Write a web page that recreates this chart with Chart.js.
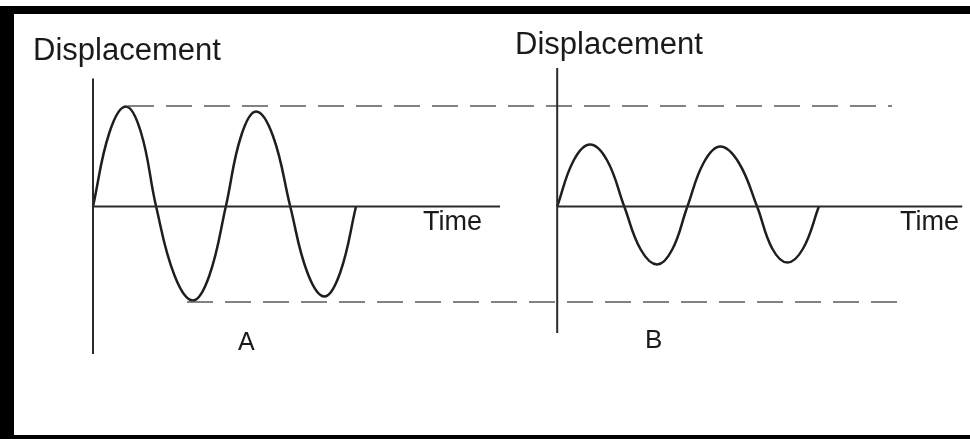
<!DOCTYPE html>
<html>
<head>
<meta charset="utf-8">
<script src="https://cdn.jsdelivr.net/npm/chart.js@4/dist/chart.umd.min.js"></script>
<style>
  html, body { margin: 0; padding: 0; background: #ffffff; }
  #wrap { position: relative; width: 970px; height: 439px; overflow: hidden; background: #fff; }
  #c { position: absolute; left: 0; top: 0; }
  .bar { position: absolute; background: #000; }
</style>
</head>
<body>
<div id="wrap">
  <canvas id="c" width="970" height="439"></canvas>
  <div class="bar" style="left:0;top:6px;width:970px;height:8px;"></div>
  <div class="bar" style="left:0;top:6px;width:14px;height:433px;"></div>
  <div class="bar" style="left:0;top:435px;width:970px;height:4px;"></div>
</div>
<script>
// ---- Data (time in periods, displacement in amplitude units of wave A) ----
const timeA = [0, 0.125, 0.25, 0.365, 0.48, 0.62, 0.76, 0.885, 1.01, 1.125, 1.24, 1.37, 1.50, 1.63, 1.76, 1.88, 2.0];
const dispA = [0, 0.74, 1.00, 0.74, 0, -0.69, -0.94, -0.69, 0, 0.70, 0.95, 0.70, 0, -0.66, -0.90, -0.66, 0];

const timeB = [0, 0.125, 0.25, 0.38, 0.51, 0.635, 0.76, 0.875, 0.99, 1.115, 1.24, 1.38, 1.52, 1.635, 1.75, 1.87, 1.99];
const dispB = [0, 0.46, 0.62, 0.46, 0, -0.43, -0.58, -0.43, 0, 0.44, 0.60, 0.44, 0, -0.42, -0.56, -0.42, 0];
const originB = 3.53;            // time origin of graph B

// axes extents
const axisA_time = [0, 3.095];
const axisA_disp = [1.28, -1.475];
const axisB_time = [0, 3.08];
const axisB_disp = [1.385, -1.265];

// amplitude reference (dashed) lines
const maxLine_time = [0.266, 6.076];
const maxLine_disp = 1.005;
const minLine_time = [0.715, 6.175];
const minLine_disp = -0.955;

const labels = ["Displacement", "Displacement", "Time", "Time", "A", "B"];

// ---- build datasets ----
const pts = (ts, ds, off) => ts.map((t, i) => ({ x: t + (off || 0), y: ds[i] }));
const waveStyle = { borderColor: '#1e1e1e', borderWidth: 2.5, pointRadius: 0, fill: false, tension: 0.4 };
const axisStyle = { borderColor: '#2a2a2a', borderWidth: 2, pointRadius: 0, fill: false, tension: 0 };
const dashStyle = { borderColor: '#5a5a5a', borderWidth: 1.5, pointRadius: 0, fill: false, tension: 0, borderDash: [26, 12] };

const datasets = [
  Object.assign({ label: 'axisA-y', data: [{ x: 0, y: axisA_disp[0] }, { x: 0, y: axisA_disp[1] }] }, axisStyle),
  Object.assign({ label: 'axisA-x', data: [{ x: axisA_time[0], y: 0 }, { x: axisA_time[1], y: 0 }] }, axisStyle),
  Object.assign({ label: 'axisB-y', data: [{ x: originB, y: axisB_disp[0] }, { x: originB, y: axisB_disp[1] }] }, axisStyle),
  Object.assign({ label: 'axisB-x', data: [{ x: originB + axisB_time[0], y: 0 }, { x: originB + axisB_time[1], y: 0 }] }, axisStyle),
  Object.assign({ label: 'max', data: [{ x: maxLine_time[0], y: maxLine_disp }, { x: maxLine_time[1], y: maxLine_disp }] }, dashStyle),
  Object.assign({ label: 'min', data: [{ x: minLine_time[0], y: minLine_disp }, { x: minLine_time[1], y: minLine_disp }] }, dashStyle),
  Object.assign({ label: 'A', data: pts(timeA, dispA, 0) }, waveStyle),
  Object.assign({ label: 'B', data: pts(timeB, dispB, originB) }, waveStyle)
];

// text placement (pixels)
const textLayout = [
  { font: '31px "Liberation Sans", Arial, sans-serif', x: 33, y: 60 },
  { font: '31px "Liberation Sans", Arial, sans-serif', x: 515, y: 54 },
  { font: '27px "Liberation Sans", Arial, sans-serif', x: 423, y: 230 },
  { font: '27px "Liberation Sans", Arial, sans-serif', x: 900, y: 230 },
  { font: '25px "Liberation Sans", Arial, sans-serif', x: 238, y: 350 },
  { font: '26px "Liberation Sans", Arial, sans-serif', x: 645, y: 348 }
];

const textPlugin = {
  id: 'texts',
  afterDraw(chart) {
    const ctx = chart.ctx;
    ctx.save();
    ctx.fillStyle = '#1a1a1a';
    ctx.textBaseline = 'alphabetic';
    ctx.textAlign = 'left';
    labels.forEach((t, i) => {
      ctx.font = textLayout[i].font;
      ctx.fillText(t, textLayout[i].x, textLayout[i].y);
    });
    ctx.restore();
  }
};

new Chart(document.getElementById('c'), {
  type: 'line',
  data: { datasets },
  options: {
    responsive: false,
    animation: false,
    layout: { padding: 0 },
    plugins: { legend: { display: false }, tooltip: { enabled: false } },
    scales: {
      x: { type: 'linear', display: false, min: -0.7072, max: 6.6692 },
      y: { type: 'linear', display: false, min: -2.325, max: 2.065 }
    }
  },
  plugins: [textPlugin]
});
</script>
</body>
</html>
